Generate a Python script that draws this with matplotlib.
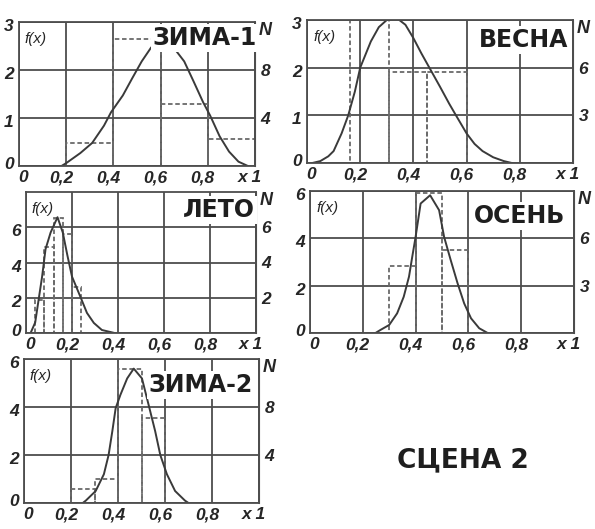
import matplotlib
matplotlib.use('Agg')
import matplotlib.pyplot as plt
import matplotlib.transforms as mtransforms
import numpy as np

plt.rcParams['font.family'] = ['Liberation Sans', 'DejaVu Sans']

W, H = 595, 529

# x axis, shared by all panels
x_ticks = [0, 0.2, 0.4, 0.6, 0.8, 1.0]
x_tick_labels = ['0', '0,2', '0,4', '0,6', '0,8', 'x 1']

# ЗИМА-1
zima1_x = [0.18, 0.20, 0.26, 0.31, 0.36, 0.39, 0.44, 0.48, 0.52, 0.56, 0.60,
           0.65, 0.70, 0.74, 0.78, 0.81, 0.85, 0.89, 0.93, 0.97]
zima1_f = [0.0, 0.06, 0.27, 0.48, 0.84, 1.12, 1.47, 1.83, 2.18, 2.47, 2.57,
           2.5, 2.18, 1.76, 1.33, 1.05, 0.62, 0.3, 0.09, 0.0]
zima1_bins = [0.2, 0.4, 0.6, 0.8, 1.0]
zima1_hist = [0.47, 2.65, 1.3, 0.57]

# ВЕСНА
vesna_x = [0.02, 0.05, 0.08, 0.10, 0.13, 0.155, 0.18, 0.20, 0.24, 0.27, 0.30,
           0.34, 0.37, 0.40, 0.43, 0.46, 0.50, 0.535, 0.56, 0.60, 0.63, 0.66,
           0.70, 0.74, 0.77]
vesna_f = [0.0, 0.04, 0.14, 0.25, 0.62, 1.0, 1.5, 2.0, 2.55, 2.85, 3.0,
           3.03, 2.9, 2.62, 2.3, 2.0, 1.6, 1.24, 1.0, 0.62, 0.4, 0.25,
           0.12, 0.04, 0.0]
vesna_bins = [0.16, 0.31, 0.45, 0.6]
vesna_hist = [3.05, 1.9, 1.9]

# ЛЕТО
leto_x = [0.02, 0.04, 0.055, 0.07, 0.085, 0.107, 0.137, 0.16, 0.18, 0.20,
          0.235, 0.265, 0.295, 0.33, 0.385]
leto_f = [0.0, 0.6, 1.9, 3.2, 4.76, 5.7, 6.57, 5.7, 4.4, 3.2,
          2.1, 1.14, 0.57, 0.17, 0.0]
leto_bins = [0.04, 0.08, 0.12, 0.16, 0.20, 0.24]
leto_hist = [1.9, 4.9, 6.5, 5.6, 2.6]

# ОСЕНЬ
osen_x = [0.248, 0.267, 0.30, 0.33, 0.355, 0.375, 0.387, 0.40, 0.419, 0.455,
          0.489, 0.508, 0.533, 0.559, 0.584, 0.61, 0.641, 0.673]
osen_f = [0.0, 0.13, 0.34, 0.83, 1.53, 2.38, 3.2, 4.06, 5.47, 5.82,
          5.19, 4.06, 3.08, 2.1, 1.25, 0.62, 0.2, 0.0]
osen_bins = [0.3, 0.4, 0.5, 0.6]
osen_hist = [2.83, 5.9, 3.5]

# ЗИМА-2
zima2_x = [0.25, 0.263, 0.305, 0.34, 0.36, 0.376, 0.39, 0.41, 0.439, 0.467,
           0.502, 0.53, 0.558, 0.58, 0.608, 0.643, 0.685, 0.70]
zima2_f = [0.0, 0.1, 0.5, 1.2, 2.0, 3.0, 3.95, 4.5, 5.19, 5.6,
           5.19, 4.1, 3.0, 2.0, 1.2, 0.5, 0.1, 0.0]
zima2_bins = [0.2, 0.3, 0.4, 0.5, 0.6]
zima2_hist = [0.58, 1.0, 5.6, 3.54]

# name, curve, histogram, f max, f ticks, N per f, N ticks,
# box in pixels (left, right, top, bottom), title anchor (right, baseline)
panels = [
    ('ЗИМА-1', zima1_x, zima1_f, zima1_bins, zima1_hist, 3, [0, 1, 2, 3], 4, [4, 8],
     (19, 255, 22, 166), (257, 45)),
    ('ВЕСНА', vesna_x, vesna_f, vesna_bins, vesna_hist, 3, [0, 1, 2, 3], 3, [3, 6],
     (307, 573, 20, 163), (568, 47)),
    ('ЛЕТО', leto_x, leto_f, leto_bins, leto_hist, 8, [0, 2, 4, 6], 1, [2, 4, 6],
     (26, 256, 192, 333), (255, 217)),
    ('ОСЕНЬ', osen_x, osen_f, osen_bins, osen_hist, 6, [0, 2, 4, 6], 1.5, [3, 6],
     (310, 574, 191, 333), (565, 223)),
    ('ЗИМА-2', zima2_x, zima2_f, zima2_bins, zima2_hist, 6, [0, 2, 4, 6], 2, [4, 8],
     (24, 259, 359, 503), (253, 392)),
]

grid_col = '#4d4d4d'
text_col = '#262626'
tick_font = dict(fontsize=12.5, style='italic', fontweight='bold', color=text_col)

fig = plt.figure(figsize=(W / 100, H / 100), dpi=100)

for name, cx, cf, bins, hist, fmax, fticks, k, nticks, box, title_at in panels:
    left, right, top, bottom = box
    ax = fig.add_axes([left / W, 1 - bottom / H, (right - left) / W, (bottom - top) / H])
    ax.set_xlim(0, 1)
    ax.set_ylim(0, fmax)
    ax.set_axisbelow(True)
    ax.grid(True, color=grid_col, lw=1.3)
    for sp in ax.spines.values():
        sp.set_color(grid_col)
        sp.set_linewidth(1.3)

    # histogram outline, dashed
    ax.bar(bins[:-1], hist, width=np.diff(bins), align='edge', fill=False,
           edgecolor='#6a6a6a', linestyle=(0, (2.5, 1.5)), lw=1.3)
    # fitted density curve
    ax.plot(cx, cf, color='#3a3a3a', lw=1.4)

    ax.set_xticks(x_ticks)
    ax.set_xticklabels(x_tick_labels, **tick_font)
    ax.set_yticks(fticks)
    ax.set_yticklabels([str(t) for t in fticks], **tick_font)
    ax.tick_params(length=0, pad=3)
    ax.tick_params(axis='y', pad=4)
    for i, lab in enumerate(ax.get_xticklabels()):
        dx = 0.04 if i == 0 else -0.05
        lab.set_transform(lab.get_transform() +
                          mtransforms.ScaledTranslation(dx, 0, fig.dpi_scale_trans))
    for i, lab in enumerate(ax.get_yticklabels()):
        dy = 0.03 if i == 0 else -0.03
        lab.set_transform(lab.get_transform() +
                          mtransforms.ScaledTranslation(0, dy, fig.dpi_scale_trans))

    # right axis with counts N
    sec = ax.secondary_yaxis('right', functions=(lambda v, k=k: v * k, lambda v, k=k: v / k))
    sec.set_yticks(nticks)
    sec.set_yticklabels([str(t) for t in nticks], **tick_font)
    sec.tick_params(length=0, pad=4)
    sec.spines['right'].set_color(grid_col)

    ax.text(0.025, 0.88, 'f(x)', transform=ax.transAxes, fontsize=11,
            style='italic', color=text_col, ha='left', va='center')
    n_off = mtransforms.ScaledTranslation(0.04, 0.0, fig.dpi_scale_trans)
    ax.text(1.0, 1.0, 'N', transform=ax.transAxes + n_off, fontsize=13,
            style='italic', fontweight='bold', color=text_col, ha='left', va='top')

    tx, ty = title_at
    fig.text(tx / W, 1 - ty / H, name, fontsize=17, fontweight='bold', color='#1e1e1e',
             family='DejaVu Sans', ha='right', va='baseline',
             bbox=dict(facecolor='white', edgecolor='none', pad=1.5))

fig.text(463 / W, 1 - 467 / H, 'СЦЕНА 2', fontsize=19, fontweight='bold',
         color='#1e1e1e', family='DejaVu Sans', ha='center', va='baseline')

fig.savefig('out.png', dpi=100)
